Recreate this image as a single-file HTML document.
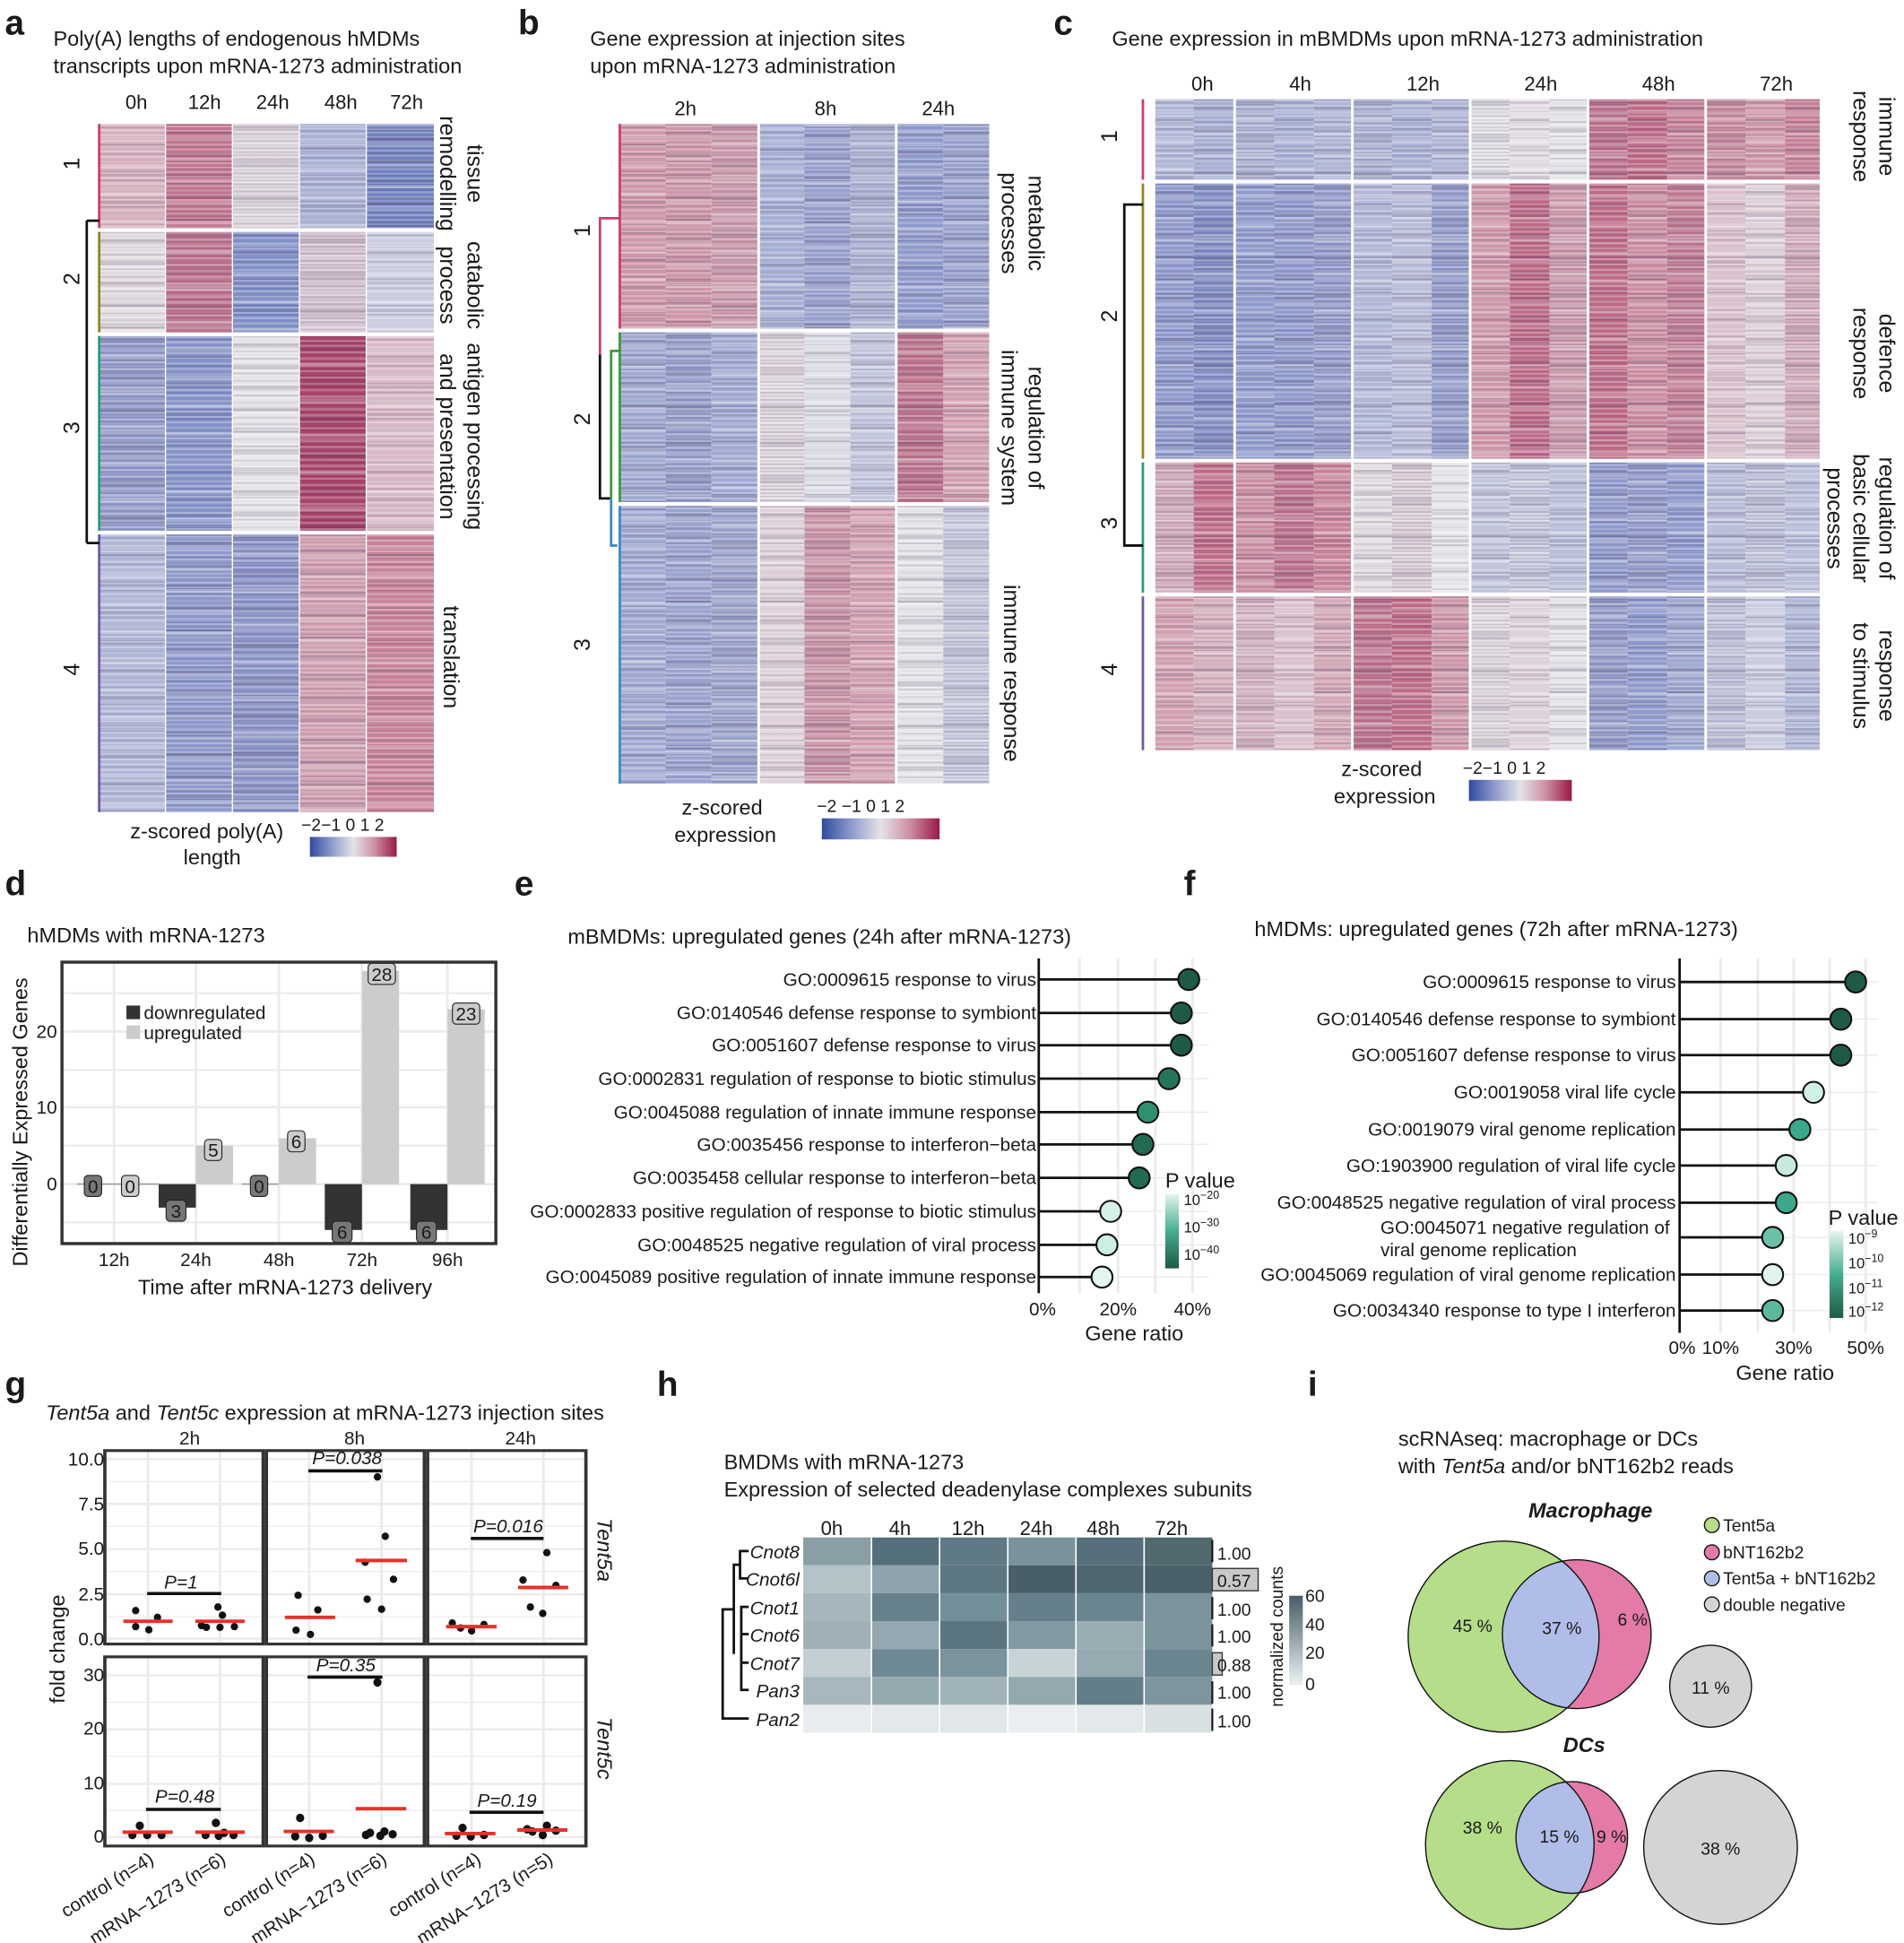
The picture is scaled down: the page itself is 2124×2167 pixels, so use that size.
<!DOCTYPE html>
<html><head><meta charset="utf-8"><style>
html,body{margin:0;padding:0;background:#fff;width:2124px;height:2167px;overflow:hidden}
#wrap{position:absolute;left:0;top:0;width:1536px;height:1567px;transform:scale(1.3828125);transform-origin:0 0;background:#fff}
#wrap svg{position:absolute;left:0;top:0}
.h{position:absolute}
.s1{background-image:repeating-linear-gradient(180deg,rgba(255,255,255,.3) 0 1.6px,rgba(255,255,255,0) 1.6px 4.3px),repeating-linear-gradient(180deg,rgba(0,0,0,0) 0 2.2px,rgba(40,20,60,.14) 2.2px 3.4px,rgba(0,0,0,0) 3.4px 7.1px),repeating-linear-gradient(180deg,rgba(255,255,255,0) 0 9px,rgba(255,255,255,.22) 9px 12px,rgba(0,0,0,0) 12px 16px,rgba(30,10,50,.1) 16px 19px,rgba(0,0,0,0) 19px 23px)}
.s2{background-image:repeating-linear-gradient(180deg,rgba(255,255,255,0) 0 1.2px,rgba(255,255,255,.28) 1.2px 2.6px,rgba(255,255,255,0) 2.6px 3.7px),repeating-linear-gradient(180deg,rgba(40,20,60,.13) 0 1.3px,rgba(0,0,0,0) 1.3px 5.9px),repeating-linear-gradient(180deg,rgba(0,0,0,0) 0 6px,rgba(30,10,50,.12) 6px 10px,rgba(255,255,255,.2) 10px 13px,rgba(0,0,0,0) 13px 17px)}
.s3{background-image:repeating-linear-gradient(180deg,rgba(255,255,255,.26) 0 2px,rgba(255,255,255,0) 2px 5.1px),repeating-linear-gradient(180deg,rgba(0,0,0,0) 0 1.5px,rgba(40,20,60,.14) 1.5px 2.9px),repeating-linear-gradient(180deg,rgba(30,10,50,.1) 0 5px,rgba(0,0,0,0) 5px 14px,rgba(255,255,255,.22) 14px 18px,rgba(0,0,0,0) 18px 29px)}
text{font-family:"Liberation Sans",Arial,sans-serif;fill:#1a1a1a}
</style></head><body>
<div id="wrap">
<!-- panel a heatmap -->
<div class="h s1" style="left:80px;top:100px;width:53px;height:84px;background-color:#d6b0be"></div>
<div class="h s2" style="left:134px;top:100px;width:53px;height:84px;background-color:#c27690"></div>
<div class="h s3" style="left:188px;top:100px;width:53px;height:84px;background-color:#e2dbe1"></div>
<div class="h s1" style="left:242px;top:100px;width:53px;height:84px;background-color:#a8b0d4;background-position:0 3px"></div>
<div class="h s2" style="left:296px;top:100px;width:54px;height:84px;background-color:#7282bf;background-position:0 5px"></div>
<div class="h s2" style="left:80px;top:187px;width:53px;height:81px;background-color:#e2dbe1"></div>
<div class="h s3" style="left:134px;top:187px;width:53px;height:81px;background-color:#c27690"></div>
<div class="h s1" style="left:188px;top:187px;width:53px;height:81px;background-color:#7f8ec6"></div>
<div class="h s3" style="left:242px;top:187px;width:53px;height:81px;background-color:#d8c6d4;background-position:0 4px"></div>
<div class="h s1" style="left:296px;top:187px;width:54px;height:81px;background-color:#cacde0"></div>
<div class="h s3" style="left:80px;top:271px;width:53px;height:157px;background-color:#97a1cf"></div>
<div class="h s1" style="left:134px;top:271px;width:53px;height:157px;background-color:#8492c8"></div>
<div class="h s2" style="left:188px;top:271px;width:53px;height:157px;background-color:#e4e3e8"></div>
<div class="h s3" style="left:242px;top:271px;width:53px;height:157px;background-color:#ad456c;background-position:0 7px"></div>
<div class="h s1" style="left:296px;top:271px;width:54px;height:157px;background-color:#d8b8c5"></div>
<div class="h s1" style="left:80px;top:431px;width:53px;height:224px;background-color:#b0b7d7"></div>
<div class="h s2" style="left:134px;top:431px;width:53px;height:224px;background-color:#8e9acc"></div>
<div class="h s3" style="left:188px;top:431px;width:53px;height:224px;background-color:#8e9acc"></div>
<div class="h s2" style="left:242px;top:431px;width:53px;height:224px;background-color:#d19fb0;background-position:0 6px"></div>
<div class="h s1" style="left:296px;top:431px;width:54px;height:224px;background-color:#c78299"></div>
<!-- panel b heatmap -->
<div class="h s1" style="left:500px;top:100px;width:37px;height:165px;background-color:#ce97a9"></div>
<div class="h s2" style="left:537px;top:100px;width:37px;height:165px;background-color:#ce97a9"></div>
<div class="h s3" style="left:574px;top:100px;width:37px;height:165px;background-color:#d19fb0"></div>
<div class="h s1" style="left:613px;top:100px;width:36px;height:165px;background-color:#a5aed4;background-position:0 4px"></div>
<div class="h s2" style="left:649px;top:100px;width:37px;height:165px;background-color:#97a1cf;background-position:0 2px"></div>
<div class="h s3" style="left:686px;top:100px;width:36px;height:165px;background-color:#b0b7d7"></div>
<div class="h s1" style="left:724px;top:100px;width:37px;height:165px;background-color:#8e9acc;background-position:0 6px"></div>
<div class="h s2" style="left:761px;top:100px;width:37px;height:165px;background-color:#97a1cf"></div>
<div class="h s2" style="left:500px;top:268px;width:37px;height:137px;background-color:#9fa9d2"></div>
<div class="h s3" style="left:537px;top:268px;width:37px;height:137px;background-color:#9aa4d0"></div>
<div class="h s1" style="left:574px;top:268px;width:37px;height:137px;background-color:#9fa9d2"></div>
<div class="h s3" style="left:613px;top:268px;width:36px;height:137px;background-color:#e2dbe1"></div>
<div class="h s1" style="left:649px;top:268px;width:37px;height:137px;background-color:#dbdce5"></div>
<div class="h s2" style="left:686px;top:268px;width:36px;height:137px;background-color:#c2c6dd"></div>
<div class="h s3" style="left:724px;top:268px;width:37px;height:137px;background-color:#c27690"></div>
<div class="h s1" style="left:761px;top:268px;width:37px;height:137px;background-color:#d19fb0"></div>
<div class="h s1" style="left:500px;top:408px;width:37px;height:224px;background-color:#9fa9d2"></div>
<div class="h s2" style="left:537px;top:408px;width:37px;height:224px;background-color:#9aa4d0"></div>
<div class="h s3" style="left:574px;top:408px;width:37px;height:224px;background-color:#a2abd3"></div>
<div class="h s2" style="left:613px;top:408px;width:36px;height:224px;background-color:#dfd2da"></div>
<div class="h s3" style="left:649px;top:408px;width:37px;height:224px;background-color:#ce97a9"></div>
<div class="h s1" style="left:686px;top:408px;width:36px;height:224px;background-color:#d19fb0"></div>
<div class="h s2" style="left:724px;top:408px;width:37px;height:224px;background-color:#e4e3e8"></div>
<div class="h s3" style="left:761px;top:408px;width:37px;height:224px;background-color:#cacde0"></div>
<!-- panel c heatmap -->
<div class="h s1" style="left:932px;top:80px;width:31px;height:65px;background-color:#b0b7d7"></div>
<div class="h s2" style="left:963px;top:80px;width:32px;height:65px;background-color:#a8b0d4"></div>
<div class="h s3" style="left:997px;top:80px;width:31px;height:65px;background-color:#b0b7d7"></div>
<div class="h s1" style="left:1028px;top:80px;width:32px;height:65px;background-color:#a8b0d4"></div>
<div class="h s2" style="left:1060px;top:80px;width:30px;height:65px;background-color:#b0b7d7"></div>
<div class="h s3" style="left:1092px;top:80px;width:31px;height:65px;background-color:#b0b7d7"></div>
<div class="h s1" style="left:1123px;top:80px;width:32px;height:65px;background-color:#a8b0d4"></div>
<div class="h s2" style="left:1155px;top:80px;width:30px;height:65px;background-color:#b0b7d7"></div>
<div class="h s3" style="left:1187px;top:80px;width:31px;height:65px;background-color:#e4e3e8"></div>
<div class="h s1" style="left:1218px;top:80px;width:32px;height:65px;background-color:#e2dbe1"></div>
<div class="h s2" style="left:1250px;top:80px;width:30px;height:65px;background-color:#e4e3e8"></div>
<div class="h s3" style="left:1282px;top:80px;width:31px;height:65px;background-color:#c27690"></div>
<div class="h s1" style="left:1313px;top:80px;width:32px;height:65px;background-color:#bd6a87"></div>
<div class="h s2" style="left:1345px;top:80px;width:30px;height:65px;background-color:#c78299"></div>
<div class="h s3" style="left:1377px;top:80px;width:31px;height:65px;background-color:#cc8ea2"></div>
<div class="h s1" style="left:1408px;top:80px;width:32px;height:65px;background-color:#ce97a9"></div>
<div class="h s2" style="left:1440px;top:80px;width:28px;height:65px;background-color:#c78299"></div>
<div class="h s2" style="left:932px;top:148px;width:31px;height:222px;background-color:#8e9acc"></div>
<div class="h s3" style="left:963px;top:148px;width:32px;height:222px;background-color:#8492c8"></div>
<div class="h s1" style="left:997px;top:148px;width:31px;height:222px;background-color:#8e9acc"></div>
<div class="h s2" style="left:1028px;top:148px;width:32px;height:222px;background-color:#8e9acc"></div>
<div class="h s3" style="left:1060px;top:148px;width:30px;height:222px;background-color:#97a1cf"></div>
<div class="h s1" style="left:1092px;top:148px;width:31px;height:222px;background-color:#b0b7d7"></div>
<div class="h s2" style="left:1123px;top:148px;width:32px;height:222px;background-color:#b9beda"></div>
<div class="h s3" style="left:1155px;top:148px;width:30px;height:222px;background-color:#97a1cf"></div>
<div class="h s1" style="left:1187px;top:148px;width:31px;height:222px;background-color:#ce97a9"></div>
<div class="h s2" style="left:1218px;top:148px;width:32px;height:222px;background-color:#bd6a87"></div>
<div class="h s3" style="left:1250px;top:148px;width:30px;height:222px;background-color:#d19fb0"></div>
<div class="h s1" style="left:1282px;top:148px;width:31px;height:222px;background-color:#bd6a87"></div>
<div class="h s2" style="left:1313px;top:148px;width:32px;height:222px;background-color:#cc8ea2"></div>
<div class="h s3" style="left:1345px;top:148px;width:30px;height:222px;background-color:#c78299"></div>
<div class="h s1" style="left:1377px;top:148px;width:31px;height:222px;background-color:#dac1cc"></div>
<div class="h s2" style="left:1408px;top:148px;width:32px;height:222px;background-color:#dfd2da"></div>
<div class="h s3" style="left:1440px;top:148px;width:28px;height:222px;background-color:#d6b0be"></div>
<div class="h s3" style="left:932px;top:373px;width:31px;height:105px;background-color:#d6b0be"></div>
<div class="h s1" style="left:963px;top:373px;width:32px;height:105px;background-color:#bd6a87"></div>
<div class="h s2" style="left:997px;top:373px;width:31px;height:105px;background-color:#cc8ea2"></div>
<div class="h s3" style="left:1028px;top:373px;width:32px;height:105px;background-color:#c27690"></div>
<div class="h s1" style="left:1060px;top:373px;width:30px;height:105px;background-color:#c78299"></div>
<div class="h s2" style="left:1092px;top:373px;width:31px;height:105px;background-color:#e2dbe1"></div>
<div class="h s3" style="left:1123px;top:373px;width:32px;height:105px;background-color:#dfd2da"></div>
<div class="h s1" style="left:1155px;top:373px;width:30px;height:105px;background-color:#e4e3e8"></div>
<div class="h s2" style="left:1187px;top:373px;width:31px;height:105px;background-color:#c2c6dd"></div>
<div class="h s3" style="left:1218px;top:373px;width:32px;height:105px;background-color:#cacde0"></div>
<div class="h s1" style="left:1250px;top:373px;width:30px;height:105px;background-color:#b9beda"></div>
<div class="h s2" style="left:1282px;top:373px;width:31px;height:105px;background-color:#8e9acc"></div>
<div class="h s3" style="left:1313px;top:373px;width:32px;height:105px;background-color:#97a1cf"></div>
<div class="h s1" style="left:1345px;top:373px;width:30px;height:105px;background-color:#8e9acc"></div>
<div class="h s2" style="left:1377px;top:373px;width:31px;height:105px;background-color:#b9beda"></div>
<div class="h s3" style="left:1408px;top:373px;width:32px;height:105px;background-color:#c2c6dd"></div>
<div class="h s1" style="left:1440px;top:373px;width:28px;height:105px;background-color:#b9beda"></div>
<div class="h s1" style="left:932px;top:481px;width:31px;height:124px;background-color:#d19fb0"></div>
<div class="h s2" style="left:963px;top:481px;width:32px;height:124px;background-color:#d6b0be"></div>
<div class="h s3" style="left:997px;top:481px;width:31px;height:124px;background-color:#d8b8c5"></div>
<div class="h s1" style="left:1028px;top:481px;width:32px;height:124px;background-color:#dac1cc"></div>
<div class="h s2" style="left:1060px;top:481px;width:30px;height:124px;background-color:#d3a8b7"></div>
<div class="h s3" style="left:1092px;top:481px;width:31px;height:124px;background-color:#c27690"></div>
<div class="h s1" style="left:1123px;top:481px;width:32px;height:124px;background-color:#bd6a87"></div>
<div class="h s2" style="left:1155px;top:481px;width:30px;height:124px;background-color:#ce97a9"></div>
<div class="h s3" style="left:1187px;top:481px;width:31px;height:124px;background-color:#e2dbe1"></div>
<div class="h s1" style="left:1218px;top:481px;width:32px;height:124px;background-color:#dfd2da"></div>
<div class="h s2" style="left:1250px;top:481px;width:30px;height:124px;background-color:#e4e3e8"></div>
<div class="h s3" style="left:1282px;top:481px;width:31px;height:124px;background-color:#97a1cf"></div>
<div class="h s1" style="left:1313px;top:481px;width:32px;height:124px;background-color:#8e9acc"></div>
<div class="h s2" style="left:1345px;top:481px;width:30px;height:124px;background-color:#9fa9d2"></div>
<div class="h s3" style="left:1377px;top:481px;width:31px;height:124px;background-color:#c2c6dd"></div>
<div class="h s1" style="left:1408px;top:481px;width:32px;height:124px;background-color:#cacde0"></div>
<div class="h s2" style="left:1440px;top:481px;width:28px;height:124px;background-color:#b0b7d7"></div>

<svg xmlns="http://www.w3.org/2000/svg" width="1536" height="1567" viewBox="0 0 1536 1567">
<defs>
<linearGradient id="zs" x1="0" x2="1" y1="0" y2="0">
<stop offset="0" stop-color="#2f4aa0"/><stop offset="0.25" stop-color="#8e9acc"/><stop offset="0.5" stop-color="#e4e3e8"/><stop offset="0.75" stop-color="#cc8ea2"/><stop offset="1" stop-color="#991848"/></linearGradient>
<linearGradient id="gp" x1="0" x2="0" y1="0" y2="1"><stop offset="0" stop-color="#e4f5f0"/><stop offset="0.5" stop-color="#46ad8f"/><stop offset="1" stop-color="#1d5a46"/></linearGradient>
<linearGradient id="gh" x1="0" x2="0" y1="1" y2="0"><stop offset="0" stop-color="#eef1f2"/><stop offset="1" stop-color="#465c66"/></linearGradient>
<clipPath id="cm"><circle cx="1213" cy="1320" r="77"/></clipPath>
<clipPath id="cd"><circle cx="1218" cy="1488" r="68"/></clipPath>
</defs>
<!-- heatmap separators -->
<g fill="#fff">
<rect x="80" y="184.5" width="270" height="2.5"/><rect x="80" y="268.5" width="270" height="2.5"/><rect x="80" y="428.5" width="270" height="2.5"/>
<rect x="611" y="100" width="2" height="532"/><rect x="722" y="100" width="2" height="532"/>
<rect x="500" y="265.3" width="298" height="2.5"/><rect x="500" y="405.3" width="298" height="2.5"/>
<rect x="995" y="80" width="2" height="525"/><rect x="1090" y="80" width="2" height="525"/><rect x="1185" y="80" width="2" height="525"/><rect x="1280" y="80" width="2" height="525"/><rect x="1375" y="80" width="2" height="525"/>
<rect x="932" y="145.3" width="536" height="2.5"/><rect x="932" y="370.3" width="536" height="2.5"/><rect x="932" y="478.3" width="536" height="2.5"/>
</g>

<!-- panel letters -->
<g font-weight="bold" font-size="28">
<text x="4" y="28">a</text><text x="418" y="28">b</text><text x="850" y="28">c</text>
<text x="4" y="722">d</text><text x="415" y="722">e</text><text x="955" y="722">f</text>
<text x="4" y="1126">g</text><text x="530" y="1126">h</text><text x="1055" y="1126">i</text>
</g>

<!-- panel a -->
<g font-size="17">
<text x="43" y="37">Poly(A) lengths of endogenous hMDMs</text>
<text x="43" y="59">transcripts upon mRNA-1273 administration</text>
<g font-size="16" text-anchor="middle"><text x="110" y="88">0h</text><text x="165" y="88">12h</text><text x="220" y="88">24h</text><text x="275" y="88">48h</text><text x="328" y="88">72h</text></g>
<g font-size="18" text-anchor="middle">
<text transform="translate(377,140) rotate(90)">tissue</text><text transform="translate(355,140) rotate(90)">remodelling</text>
<text transform="translate(377,230) rotate(90)">catabolic</text><text transform="translate(355,230) rotate(90)">process</text>
<text transform="translate(377,352) rotate(90)">antigen processing</text><text transform="translate(355,352) rotate(90)">and presentation</text>
<text transform="translate(358,530) rotate(90)">translation</text>
<text transform="translate(64,132) rotate(-90)">1</text><text transform="translate(64,225) rotate(-90)">2</text><text transform="translate(64,345) rotate(-90)">3</text><text transform="translate(64,540) rotate(-90)">4</text>
</g>
<text x="105" y="676">z-scored poly(A)</text><text x="148" y="697">length</text>
<text x="243" y="670" font-size="14">−2−1 0 1 2</text>
<rect x="250" y="675" width="70" height="16" fill="url(#zs)"/>
</g>
<g stroke-width="2" fill="none">
<path d="M80 100V184" stroke="#c8406a"/><path d="M80 187V268" stroke="#8a8a2a"/><path d="M80 271V428" stroke="#2a9a7a"/><path d="M80 431V655" stroke="#6a5aa8"/>
<path d="M70 178H80M70 438H80M70 178V438" stroke="#111"/>
</g>

<!-- panel b -->
<g font-size="17">
<text x="476" y="37">Gene expression at injection sites</text>
<text x="476" y="59">upon mRNA-1273 administration</text>
<g font-size="16" text-anchor="middle"><text x="553" y="93">2h</text><text x="666" y="93">8h</text><text x="757" y="93">24h</text></g>
<g font-size="18" text-anchor="middle">
<text transform="translate(830,180) rotate(90)">metabolic</text><text transform="translate(808,180) rotate(90)">processes</text>
<text transform="translate(830,345) rotate(90)">regulation of</text><text transform="translate(808,345) rotate(90)">immune system</text>
<text transform="translate(810,543) rotate(90)">immune response</text>
<text transform="translate(476,186) rotate(-90)">1</text><text transform="translate(476,338) rotate(-90)">2</text><text transform="translate(476,520) rotate(-90)">3</text>
</g>
<text x="550" y="657">z-scored</text><text x="544" y="679">expression</text>
<text x="659" y="655" font-size="14">−2 −1  0  1  2</text>
<rect x="663" y="660" width="95" height="17" fill="url(#zs)"/>
</g>
<g stroke-width="2" fill="none">
<path d="M500 100V265" stroke="#c8406a"/><path d="M500 268V405" stroke="#3a9a3a"/><path d="M500 408V632" stroke="#3a8ac8"/>
<path d="M500 176H484V286" stroke="#c8406a"/><path d="M484 286V402H493" stroke="#111"/>
<path d="M500 283H493V402" stroke="#3a9a3a"/><path d="M493 402V440H498" stroke="#3a8ac8"/>
</g>

<!-- panel c -->
<g font-size="17">
<text x="897" y="37">Gene expression in mBMDMs upon mRNA-1273 administration</text>
<g font-size="16" text-anchor="middle"><text x="970" y="73">0h</text><text x="1049" y="73">4h</text><text x="1148" y="73">12h</text><text x="1243" y="73">24h</text><text x="1338" y="73">48h</text><text x="1433" y="73">72h</text></g>
<g font-size="18" text-anchor="middle">
<text transform="translate(1516,110) rotate(90)">immune</text><text transform="translate(1495,110) rotate(90)">response</text>
<text transform="translate(1516,285) rotate(90)">defence</text><text transform="translate(1495,285) rotate(90)">response</text>
<text transform="translate(1516,418) rotate(90)">regulation of</text><text transform="translate(1495,418) rotate(90)">basic cellular</text><text transform="translate(1474,418) rotate(90)">processes</text>
<text transform="translate(1516,545) rotate(90)">response</text><text transform="translate(1495,545) rotate(90)">to stimulus</text>
<text transform="translate(901,110) rotate(-90)">1</text><text transform="translate(901,255) rotate(-90)">2</text><text transform="translate(901,422) rotate(-90)">3</text><text transform="translate(901,540) rotate(-90)">4</text>
</g>
<text x="1082" y="626">z-scored</text><text x="1076" y="648">expression</text>
<text x="1180" y="624" font-size="14">−2−1  0  1  2</text>
<rect x="1185" y="629" width="83" height="17" fill="url(#zs)"/>
</g>
<g stroke-width="2" fill="none">
<path d="M922 80V145" stroke="#c8406a"/><path d="M922 148V370" stroke="#8a8a2a"/><path d="M922 373V478" stroke="#2a9a7a"/><path d="M922 481V605" stroke="#6a5aa8"/>
<path d="M922 165H907V440H922" stroke="#111"/>
</g>

<!-- panel d -->
<g font-size="17">
<text x="22" y="760">hMDMs with mRNA-1273</text>
<g stroke="#ebebeb" stroke-width="1.5">
<path d="M50 986H400M50 924H400M50 863H400M50 801H400"/>
<path d="M50 955H400M50 893H400M50 832H400" stroke-width="2"/>
<path d="M92 776V1003M158 776V1003M225 776V1003M292 776V1003M361 776V1003" stroke-width="2"/>
</g>
<g fill="#cccccc"><rect x="158" y="924" width="30" height="31"/><rect x="225" y="918" width="30" height="37"/><rect x="292" y="783" width="30" height="172"/><rect x="361" y="814" width="30" height="141"/></g>
<g fill="#333"><rect x="128" y="955" width="30" height="19"/><rect x="262" y="955" width="30" height="37"/><rect x="331" y="955" width="30" height="37"/></g>
<path d="M62 955H128M195 955H225" stroke="#999" stroke-width="1"/>
<g stroke="#222" stroke-width="0.8">
<rect x="68" y="948" width="14" height="17" rx="3" fill="#777"/><rect x="98" y="948" width="14" height="17" rx="3" fill="#ccc"/>
<rect x="134" y="968" width="16" height="17" rx="3" fill="#777"/><rect x="165" y="919" width="14" height="17" rx="3" fill="#ccc"/>
<rect x="202" y="948" width="14" height="17" rx="3" fill="#777"/><rect x="232" y="912" width="14" height="17" rx="3" fill="#ccc"/>
<rect x="268" y="985" width="16" height="17" rx="3" fill="#777"/><rect x="297" y="777" width="22" height="17" rx="3" fill="#ccc"/>
<rect x="336" y="985" width="16" height="17" rx="3" fill="#777"/><rect x="365" y="809" width="22" height="17" rx="3" fill="#ccc"/>
</g>
<g font-size="15" text-anchor="middle">
<text x="75" y="962" fill="#fff">0</text><text x="105" y="962">0</text><text x="142" y="982" fill="#fff">3</text><text x="172" y="933">5</text>
<text x="209" y="962" fill="#fff">0</text><text x="239" y="926">6</text><text x="276" y="999" fill="#fff">6</text><text x="308" y="791">28</text>
<text x="344" y="999" fill="#fff">6</text><text x="376" y="823">23</text>
</g>
<rect x="50" y="776" width="350" height="227" fill="none" stroke="#333" stroke-width="2.5"/>
<rect x="102" y="811" width="11" height="11" fill="#333"/><rect x="102" y="827" width="11" height="11" fill="#ccc"/>
<text x="116" y="822" font-size="15">downregulated</text><text x="116" y="838" font-size="15">upregulated</text>
<g font-size="15" fill="#444" text-anchor="end"><text x="46" y="960">0</text><text x="46" y="898">10</text><text x="46" y="837">20</text></g>
<g font-size="15" text-anchor="middle"><text x="92" y="1021">12h</text><text x="158" y="1021">24h</text><text x="225" y="1021">48h</text><text x="292" y="1021">72h</text><text x="361" y="1021">96h</text></g>
<text x="230" y="1044" text-anchor="middle">Time after mRNA-1273 delivery</text>
<text transform="translate(22,905) rotate(-90)" text-anchor="middle">Differentially Expressed Genes</text>
</g>

<!-- panel e -->
<g font-size="15">
<text x="458" y="761" font-size="17">mBMDMs: upregulated genes (24h after mRNA-1273)</text>
<g stroke="#ebebeb" stroke-width="2"><path d="M871 773V1043M902 773V1043M932 773V1043M962 773V1043"/>
<path d="M838 790H975M838 817H975M838 843H975M838 870H975M838 897H975M838 923H975M838 950H975M838 977H975M838 1004H975M838 1030H975" stroke-width="1"/></g>
<path d="M838 773V1043" stroke="#111" stroke-width="2"/>
<g text-anchor="end">
<text x="836" y="795">GO:0009615 response to virus</text>
<text x="836" y="822">GO:0140546 defense response to symbiont</text>
<text x="836" y="848">GO:0051607 defense response to virus</text>
<text x="836" y="875">GO:0002831 regulation of response to biotic stimulus</text>
<text x="836" y="902">GO:0045088 regulation of innate immune response</text>
<text x="836" y="928">GO:0035456 response to interferon−beta</text>
<text x="836" y="955">GO:0035458 cellular response to interferon−beta</text>
<text x="836" y="982">GO:0002833 positive regulation of response to biotic stimulus</text>
<text x="836" y="1009">GO:0048525 negative regulation of viral process</text>
<text x="836" y="1035">GO:0045089 positive regulation of innate immune response</text>
</g>
<g text-anchor="middle"><text x="841" y="1061">0%</text><text x="902" y="1061">20%</text><text x="962" y="1061">40%</text></g>
<text x="915" y="1081" text-anchor="middle" font-size="17">Gene ratio</text>
<text x="940" y="958" font-size="17">P value</text>
<rect x="940" y="963" width="11" height="60" fill="url(#gp)"/>
<g font-size="12"><text x="955" y="972">10<tspan dy="-5" font-size="9">−20</tspan></text><text x="955" y="994">10<tspan dy="-5" font-size="9">−30</tspan></text><text x="955" y="1016">10<tspan dy="-5" font-size="9">−40</tspan></text></g>
</g>
<g stroke="#111" stroke-width="2">
<path d="M838 790H959M838 817H953M838 843H953M838 870H943M838 897H926M838 923H922M838 950H919M838 977H896M838 1004H893M838 1030H889"/>
<g stroke-width="1.5">
<circle cx="959" cy="790" r="8.5" fill="#1f5a47"/><circle cx="953" cy="817" r="8.5" fill="#1f5a47"/><circle cx="953" cy="843" r="8.5" fill="#1f5a47"/>
<circle cx="943" cy="870" r="8.5" fill="#277559"/><circle cx="926" cy="897" r="8.5" fill="#2e9070"/><circle cx="922" cy="923" r="8.5" fill="#236a54"/>
<circle cx="919" cy="950" r="8.5" fill="#236a54"/><circle cx="896" cy="977" r="8.5" fill="#d8f0ea"/><circle cx="893" cy="1004" r="8.5" fill="#cdeee4"/><circle cx="889" cy="1030" r="8.5" fill="#e4f5f0"/>
</g></g>

<!-- panel f -->
<g font-size="15">
<text x="1012" y="755" font-size="17">hMDMs: upregulated genes (72h after mRNA-1273)</text>
<g stroke="#ebebeb" stroke-width="2"><path d="M1388 773V1075M1418 773V1075M1447 773V1075M1476 773V1075M1505 773V1075"/>
<path d="M1355 792H1515M1355 822H1515M1355 851H1515M1355 881H1515M1355 911H1515M1355 940H1515M1355 970H1515M1355 998H1515M1355 1028H1515M1355 1057H1515" stroke-width="1"/></g>
<path d="M1355 773V1075" stroke="#111" stroke-width="2"/>
<g text-anchor="end">
<text x="1352" y="797">GO:0009615 response to virus</text>
<text x="1352" y="827">GO:0140546 defense response to symbiont</text>
<text x="1352" y="856">GO:0051607 defense response to virus</text>
<text x="1352" y="886">GO:0019058 viral life cycle</text>
<text x="1352" y="916">GO:0019079 viral genome replication</text>
<text x="1352" y="945">GO:1903900 regulation of viral life cycle</text>
<text x="1352" y="975">GO:0048525 negative regulation of viral process</text>
<text x="1347" y="995">GO:0045071 negative regulation of</text>
<text x="1272" y="1013">viral genome replication</text>
<text x="1352" y="1033">GO:0045069 regulation of viral genome replication</text>
<text x="1352" y="1062">GO:0034340 response to type I interferon</text>
</g>
<g text-anchor="middle"><text x="1357" y="1092">0%</text><text x="1388" y="1092">10%</text><text x="1447" y="1092">30%</text><text x="1505" y="1092">50%</text></g>
<text x="1440" y="1113" text-anchor="middle" font-size="17">Gene ratio</text>
<text x="1475" y="988" font-size="17">P value</text>
<rect x="1476" y="993" width="11" height="70" fill="url(#gp)"/>
<g font-size="12"><text x="1491" y="1003">10<tspan dy="-5" font-size="9">−9</tspan></text><text x="1491" y="1023">10<tspan dy="-5" font-size="9">−10</tspan></text><text x="1491" y="1043">10<tspan dy="-5" font-size="9">−11</tspan></text><text x="1491" y="1062">10<tspan dy="-5" font-size="9">−12</tspan></text></g>
</g>
<g stroke="#111" stroke-width="2">
<path d="M1355 792H1497M1355 822H1485M1355 851H1485M1355 881H1463M1355 911H1452M1355 940H1441M1355 970H1441M1355 998H1430M1355 1028H1430M1355 1057H1430"/>
<g stroke-width="1.5">
<circle cx="1497" cy="792" r="8.5" fill="#1f5a47"/><circle cx="1485" cy="822" r="8.5" fill="#1f5a47"/><circle cx="1485" cy="851" r="8.5" fill="#1f5a47"/>
<circle cx="1463" cy="881" r="8.5" fill="#d0efe6"/><circle cx="1452" cy="911" r="8.5" fill="#3aa88a"/><circle cx="1441" cy="940" r="8.5" fill="#c6eae0"/>
<circle cx="1441" cy="970" r="8.5" fill="#3aa88a"/><circle cx="1430" cy="998" r="8.5" fill="#6cc0a8"/><circle cx="1430" cy="1028" r="8.5" fill="#e0f3ee"/><circle cx="1430" cy="1057" r="8.5" fill="#5cb89c"/>
</g></g>

<!-- panel g -->
<g transform="matrix(0.3317 0 0 0.2868 0 1114.6)">
<g stroke="#ebebeb" fill="none">
<path stroke-width="6" d="M255 217H640M255 343H640M255 470H640M255 597H640M255 722H640M648 217H1032M648 343H1032M648 470H1032M648 597H1032M648 722H1032M1040 217H1425M1040 343H1425M1040 470H1425M1040 597H1425M1040 722H1425
M255 825H640M255 977H640M255 1130H640M255 1280H640M648 825H1032M648 977H1032M648 1130H1032M648 1280H1032M1040 825H1425M1040 977H1425M1040 1130H1425M1040 1280H1425
M360 193V737M535 193V737M752 193V737M928 193V737M1147 193V737M1322 193V737M360 773V1305M535 773V1305M752 773V1305M928 773V1305M1147 773V1305M1322 773V1305"/>
<path stroke-width="3" d="M255 280H640M255 406H640M255 533H640M255 660H640M648 280H1032M648 406H1032M648 533H1032M648 660H1032M1040 280H1425M1040 406H1425M1040 533H1425M1040 660H1425
M255 901H640M255 1053H640M255 1205H640M648 901H1032M648 1053H1032M648 1205H1032M1040 901H1425M1040 1053H1425M1040 1205H1425"/>
</g>
<g fill="#111">
<ellipse cx="330" cy="643" rx="9" ry="10.5"/><ellipse cx="330" cy="688" rx="9" ry="10.5"/><ellipse cx="362" cy="697" rx="9" ry="10.5"/><ellipse cx="383" cy="662" rx="9" ry="10.5"/>
<ellipse cx="490" cy="685" rx="9" ry="10.5"/><ellipse cx="502" cy="690" rx="9" ry="10.5"/><ellipse cx="530" cy="633" rx="9" ry="10.5"/><ellipse cx="541" cy="656" rx="9" ry="10.5"/><ellipse cx="535" cy="690" rx="9" ry="10.5"/><ellipse cx="570" cy="688" rx="9" ry="10.5"/>
<ellipse cx="725" cy="600" rx="9" ry="10.5"/><ellipse cx="773" cy="641" rx="9" ry="10.5"/><ellipse cx="720" cy="698" rx="9" ry="10.5"/><ellipse cx="755" cy="710" rx="9" ry="10.5"/>
<ellipse cx="918" cy="267" rx="9" ry="10.5"/><ellipse cx="937" cy="434" rx="9" ry="10.5"/><ellipse cx="888" cy="507" rx="9" ry="10.5"/><ellipse cx="957" cy="555" rx="9" ry="10.5"/><ellipse cx="893" cy="611" rx="9" ry="10.5"/><ellipse cx="928" cy="639" rx="9" ry="10.5"/>
<ellipse cx="1100" cy="678" rx="9" ry="10.5"/><ellipse cx="1120" cy="692" rx="9" ry="10.5"/><ellipse cx="1147" cy="700" rx="9" ry="10.5"/><ellipse cx="1177" cy="682" rx="9" ry="10.5"/>
<ellipse cx="1272" cy="557" rx="9" ry="10.5"/><ellipse cx="1330" cy="480" rx="9" ry="10.5"/><ellipse cx="1352" cy="572" rx="9" ry="10.5"/><ellipse cx="1290" cy="633" rx="9" ry="10.5"/><ellipse cx="1320" cy="651" rx="9" ry="10.5"/>
<ellipse cx="340" cy="1248" rx="10" ry="12"/><ellipse cx="322" cy="1274" rx="10" ry="12"/><ellipse cx="358" cy="1274" rx="10" ry="12"/><ellipse cx="393" cy="1274" rx="10" ry="12"/>
<ellipse cx="525" cy="1240" rx="10" ry="12"/><ellipse cx="500" cy="1274" rx="10" ry="12"/><ellipse cx="532" cy="1276" rx="10" ry="12"/><ellipse cx="545" cy="1268" rx="10" ry="12"/><ellipse cx="568" cy="1274" rx="10" ry="12"/>
<ellipse cx="730" cy="1226" rx="10" ry="12"/><ellipse cx="718" cy="1278" rx="10" ry="12"/><ellipse cx="752" cy="1282" rx="10" ry="12"/><ellipse cx="785" cy="1276" rx="10" ry="12"/>
<ellipse cx="918" cy="845" rx="10" ry="12"/><ellipse cx="890" cy="1274" rx="10" ry="12"/><ellipse cx="900" cy="1268" rx="10" ry="12"/><ellipse cx="925" cy="1276" rx="10" ry="12"/><ellipse cx="935" cy="1264" rx="10" ry="12"/><ellipse cx="955" cy="1272" rx="10" ry="12"/>
<ellipse cx="1125" cy="1254" rx="10" ry="12"/><ellipse cx="1110" cy="1276" rx="10" ry="12"/><ellipse cx="1145" cy="1278" rx="10" ry="12"/><ellipse cx="1177" cy="1274" rx="10" ry="12"/>
<ellipse cx="1282" cy="1258" rx="10" ry="12"/><ellipse cx="1320" cy="1274" rx="10" ry="12"/><ellipse cx="1330" cy="1248" rx="10" ry="12"/><ellipse cx="1352" cy="1262" rx="10" ry="12"/><ellipse cx="1295" cy="1264" rx="10" ry="12"/>
</g>
<path stroke="#e8302a" stroke-width="10" d="M300 673H420M475 673H595M693 662H815M865 502H990M1085 688H1208M1260 578H1382M298 1266H420M475 1266H595M690 1264H812M865 1200H988M1082 1270H1205M1258 1260H1380"/>
<path stroke="#111" stroke-width="9" d="M358 595H538M750 250H930M1145 440H1322M355 1202H537M748 830H930M1142 1210H1322"/>
<g fill="none" stroke="#333" stroke-width="8">
<rect x="255" y="193" width="385" height="544"/><rect x="648" y="193" width="384" height="544"/><rect x="1040" y="193" width="385" height="544"/>
<rect x="255" y="773" width="385" height="532"/><rect x="648" y="773" width="384" height="532"/><rect x="1040" y="773" width="385" height="532"/>
</g>
</g>
<g font-size="15">
<text x="37" y="1145" font-size="17"><tspan font-style="italic">Tent5a</tspan> and <tspan font-style="italic">Tent5c</tspan> expression at mRNA-1273 injection sites</text>
<g text-anchor="middle"><text x="153" y="1165">2h</text><text x="286" y="1165">8h</text><text x="420" y="1165">24h</text></g>
<g text-anchor="end" fill="#444"><text x="84" y="1182">10.0</text><text x="84" y="1218">7.5</text><text x="84" y="1254">5.0</text><text x="84" y="1291">2.5</text><text x="84" y="1327">0.0</text>
<text x="84" y="1356">30</text><text x="84" y="1399">20</text><text x="84" y="1443">10</text><text x="84" y="1486">0</text></g>
<g font-style="italic" text-anchor="middle"><text x="146" y="1281">P=1</text><text x="280" y="1181">P=0.038</text><text x="410" y="1236">P=0.016</text>
<text x="149" y="1454">P=0.48</text><text x="279" y="1348">P=0.35</text><text x="409" y="1457">P=0.19</text></g>
<g font-style="italic" font-size="17" text-anchor="middle"><text transform="translate(482,1250) rotate(90)">Tent5a</text><text transform="translate(482,1410) rotate(90)">Tent5c</text></g>
<text transform="translate(52,1330) rotate(-90)" text-anchor="middle" font-size="17">fold change</text>
<g text-anchor="end" font-size="15">
<text transform="translate(125,1502) rotate(-32)">control (n=4)</text><text transform="translate(183,1502) rotate(-32)">mRNA−1273 (n=6)</text>
<text transform="translate(255,1502) rotate(-32)">control (n=4)</text><text transform="translate(313,1502) rotate(-32)">mRNA−1273 (n=6)</text>
<text transform="translate(389,1502) rotate(-32)">control (n=4)</text><text transform="translate(447,1502) rotate(-32)">mRNA−1273 (n=5)</text>
</g>
</g>

<!-- panel h -->
<g font-size="17">
<text x="584" y="1185">BMDMs with mRNA-1273</text>
<text x="584" y="1207">Expression of selected deadenylase complexes subunits</text>
<g font-size="16" text-anchor="middle"><text x="671" y="1238">0h</text><text x="726" y="1238">4h</text><text x="781" y="1238">12h</text><text x="836" y="1238">24h</text><text x="890" y="1238">48h</text><text x="945" y="1238">72h</text></g>
<g>
<rect x="648" y="1240" width="55" height="22.5" fill="#8a9ea6"/><rect x="703" y="1240" width="55" height="22.5" fill="#556f7a"/><rect x="758" y="1240" width="55" height="22.5" fill="#5f7a85"/><rect x="813" y="1240" width="55" height="22.5" fill="#7a929b"/><rect x="868" y="1240" width="55" height="22.5" fill="#566f7a"/><rect x="923" y="1240" width="55" height="22.5" fill="#52696f"/>
<rect x="648" y="1262.5" width="55" height="22.5" fill="#b4c3c8"/><rect x="703" y="1262.5" width="55" height="22.5" fill="#8ea3ab"/><rect x="758" y="1262.5" width="55" height="22.5" fill="#5c7782"/><rect x="813" y="1262.5" width="55" height="22.5" fill="#495f68"/><rect x="868" y="1262.5" width="55" height="22.5" fill="#4e6670"/><rect x="923" y="1262.5" width="55" height="22.5" fill="#4a6069"/>
<rect x="648" y="1285" width="55" height="22.5" fill="#a6b6bc"/><rect x="703" y="1285" width="55" height="22.5" fill="#66818c"/><rect x="758" y="1285" width="55" height="22.5" fill="#73909a"/><rect x="813" y="1285" width="55" height="22.5" fill="#66808b"/><rect x="868" y="1285" width="55" height="22.5" fill="#6a8590"/><rect x="923" y="1285" width="55" height="22.5" fill="#7a939c"/>
<rect x="648" y="1307.5" width="55" height="22.5" fill="#9fb0b7"/><rect x="703" y="1307.5" width="55" height="22.5" fill="#93a8b0"/><rect x="758" y="1307.5" width="55" height="22.5" fill="#5a7580"/><rect x="813" y="1307.5" width="55" height="22.5" fill="#8199a2"/><rect x="868" y="1307.5" width="55" height="22.5" fill="#9aadb4"/><rect x="923" y="1307.5" width="55" height="22.5" fill="#7a939c"/>
<rect x="648" y="1330" width="55" height="22.5" fill="#c3cfd3"/><rect x="703" y="1330" width="55" height="22.5" fill="#6e8994"/><rect x="758" y="1330" width="55" height="22.5" fill="#7a939c"/><rect x="813" y="1330" width="55" height="22.5" fill="#c8d3d7"/><rect x="868" y="1330" width="55" height="22.5" fill="#96aab2"/><rect x="923" y="1330" width="55" height="22.5" fill="#6a8590"/>
<rect x="648" y="1352.5" width="55" height="22.5" fill="#a6b7bd"/><rect x="703" y="1352.5" width="55" height="22.5" fill="#95a9b1"/><rect x="758" y="1352.5" width="55" height="22.5" fill="#a0b3b9"/><rect x="813" y="1352.5" width="55" height="22.5" fill="#94a8b0"/><rect x="868" y="1352.5" width="55" height="22.5" fill="#637e89"/><rect x="923" y="1352.5" width="55" height="22.5" fill="#7d959e"/>
<rect x="648" y="1375" width="55" height="22.5" fill="#e8ecee"/><rect x="703" y="1375" width="55" height="22.5" fill="#e3e8ea"/><rect x="758" y="1375" width="55" height="22.5" fill="#e1e6e8"/><rect x="813" y="1375" width="55" height="22.5" fill="#eaeef0"/><rect x="868" y="1375" width="55" height="22.5" fill="#e3e8ea"/><rect x="923" y="1375" width="55" height="22.5" fill="#d8e0e2"/>
<path d="M703 1240V1397.5M758 1240V1397.5M813 1240V1397.5M868 1240V1397.5M923 1240V1397.5" stroke="#fff" stroke-width="1.2"/>
</g>
<g font-size="15" font-style="italic" text-anchor="end"><text x="645" y="1257">Cnot8</text><text x="645" y="1279">Cnot6l</text><text x="645" y="1302">Cnot1</text><text x="645" y="1324">Cnot6</text><text x="645" y="1347">Cnot7</text><text x="645" y="1369">Pan3</text><text x="645" y="1392">Pan2</text></g>
<path d="M604 1251H597V1273H604M597 1262H592V1334M604 1296H598V1363H604M598 1318H604M598 1341H604M592 1298H583V1386H604" stroke="#111" stroke-width="2" fill="none"/>
<rect x="978" y="1265" width="37" height="18" fill="#c8c8c8" stroke="#333"/>
<rect x="978" y="1333" width="8" height="18" fill="#c8c8c8" stroke="#333"/>
<g font-size="14"><text x="982" y="1258">1.00</text><text x="982" y="1280">0.57</text><text x="982" y="1303">1.00</text><text x="982" y="1325">1.00</text><text x="982" y="1348">0.88</text><text x="982" y="1370">1.00</text><text x="982" y="1393">1.00</text></g>
<path d="M978 1242V1260M978 1288V1306M978 1310V1328M978 1356V1374M978 1378V1396" stroke="#111" stroke-width="1.5"/>
<text transform="translate(1035,1320) rotate(-90)" text-anchor="middle" font-size="14">normalized counts</text>
<rect x="1040" y="1287" width="11" height="72" fill="url(#gh)"/>
<g font-size="14"><text x="1053" y="1292">60</text><text x="1053" y="1315">40</text><text x="1053" y="1338">20</text><text x="1053" y="1363">0</text></g>
</g>

<!-- panel i -->
<g font-size="17">
<text x="1128" y="1166">scRNAseq: macrophage or DCs</text>
<text x="1128" y="1188">with <tspan font-style="italic">Tent5a</tspan> and/or bNT162b2 reads</text>
<text x="1283" y="1224" text-anchor="middle" font-weight="bold" font-style="italic">Macrophage</text>
<circle cx="1213" cy="1320" r="77" fill="#b5dd8a"/>
<circle cx="1272" cy="1318" r="60" fill="#e47aa8"/>
<circle cx="1272" cy="1318" r="60" fill="#b0bde8" clip-path="url(#cm)"/>
<circle cx="1213" cy="1320" r="77" fill="none" stroke="#111"/>
<circle cx="1272" cy="1318" r="60" fill="none" stroke="#111"/>
<g font-size="14" text-anchor="middle"><text x="1188" y="1316">45 %</text><text x="1260" y="1318">37 %</text><text x="1317" y="1311">6 %</text></g>
<circle cx="1380" cy="1360" r="33" fill="#d4d4d4" stroke="#111"/><text x="1380" y="1366" font-size="14" text-anchor="middle">11 %</text>
<g stroke="#111"><circle cx="1381" cy="1230" r="6" fill="#b5dd8a"/><circle cx="1381" cy="1252" r="6" fill="#e47aa8"/><circle cx="1381" cy="1273" r="6" fill="#b0bde8"/><circle cx="1381" cy="1294" r="6" fill="#d4d4d4"/></g>
<g font-size="14"><text x="1390" y="1235">Tent5a</text><text x="1390" y="1257">bNT162b2</text><text x="1390" y="1278">Tent5a + bNT162b2</text><text x="1390" y="1299">double negative</text></g>
<text x="1278" y="1413" text-anchor="middle" font-weight="bold" font-style="italic">DCs</text>
<circle cx="1218" cy="1488" r="68" fill="#b5dd8a"/>
<circle cx="1268" cy="1482" r="45" fill="#e47aa8"/>
<circle cx="1268" cy="1482" r="45" fill="#b0bde8" clip-path="url(#cd)"/>
<circle cx="1218" cy="1488" r="68" fill="none" stroke="#111"/>
<circle cx="1268" cy="1482" r="45" fill="none" stroke="#111"/>
<g font-size="14" text-anchor="middle"><text x="1196" y="1479">38 %</text><text x="1258" y="1486">15 %</text><text x="1300" y="1486">9 %</text></g>
<circle cx="1388" cy="1490" r="62" fill="#d4d4d4" stroke="#111"/><text x="1388" y="1496" font-size="14" text-anchor="middle">38 %</text>
</g>
</svg>
</div>
</body></html>
